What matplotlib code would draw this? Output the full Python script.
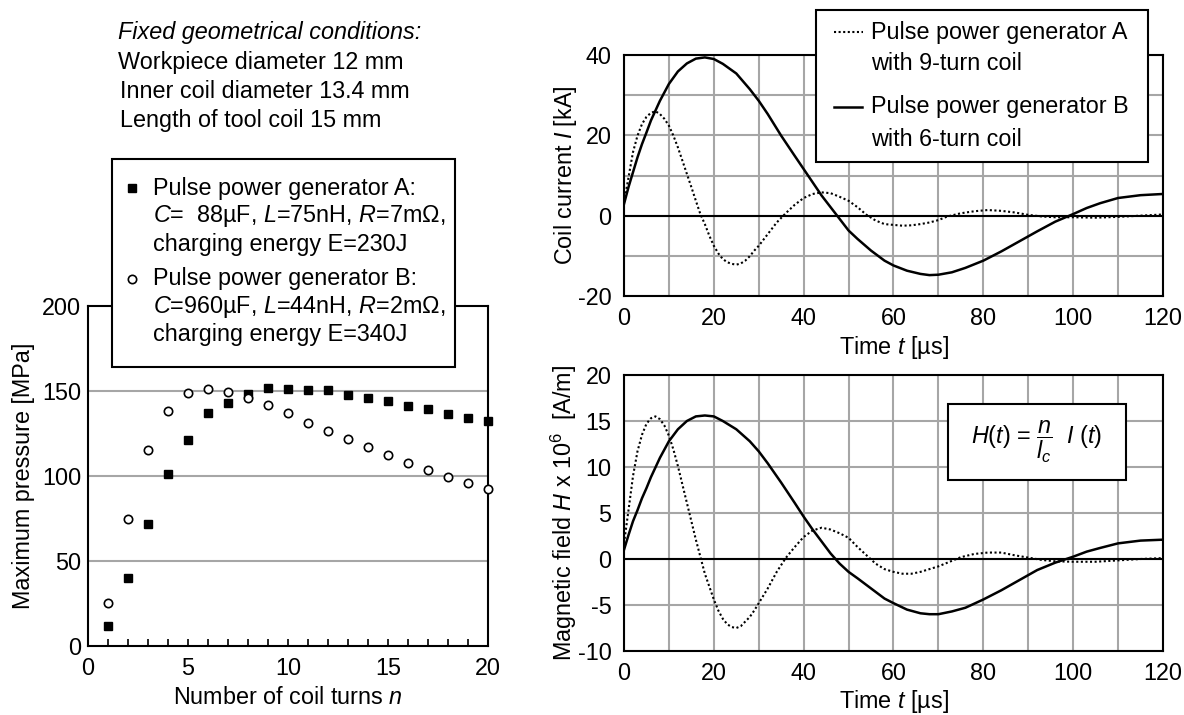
import matplotlib
matplotlib.use('Agg')
import matplotlib.pyplot as plt
from matplotlib.patches import Rectangle
from matplotlib.ticker import MultipleLocator

plt.rcParams['font.family'] = ['Liberation Sans', 'DejaVu Sans']
plt.rcParams['mathtext.fontset'] = 'custom'
plt.rcParams['mathtext.rm'] = 'Liberation Sans'
plt.rcParams['mathtext.it'] = 'Liberation Sans:italic'
plt.rcParams['mathtext.bf'] = 'Liberation Sans:bold'
plt.rcParams['font.size'] = 16.8
plt.rcParams['axes.unicode_minus'] = False

# ---------------- data ----------------
turns = list(range(1, 21))
pressure_A = [12, 40, 72, 101, 121, 137, 143, 148.5, 152, 151.4, 150.8, 150.4,
              147.9, 146.1, 144.4, 141.4, 139.5, 136.7, 134.2, 132.2]
pressure_B = [25.5, 74.8, 115.4, 138.3, 148.7, 151, 149.5, 145.9, 141.8, 136.9,
              131.4, 126.5, 121.6, 116.9, 112.2, 107.7, 103.4, 99.7, 96.0, 92.5]

t_A = [0, 1, 2, 3, 4, 5, 6, 7, 8, 9, 10, 11, 12, 13, 14, 15, 16, 17, 18, 19, 20,
       21, 22, 23, 24, 25, 26, 27, 28, 29, 30,
       32, 34, 36, 38, 40, 42, 44, 46, 48, 50,
       52, 54, 56, 58, 60, 62, 64, 66, 68, 70,
       72, 75, 78, 81, 84, 87, 90, 93, 96, 100, 105, 110, 115, 120]
current_A = [3.3, 9.5, 15.8, 19.9, 22.8, 24.6, 25.6, 26.0, 25.3, 24.1, 22.4, 19.9,
             17.0, 13.7, 10.4, 7.1, 3.7, 0.4, -2.1, -5.0, -7.5, -9.4, -10.8, -11.6,
             -12.0, -12.2, -11.9, -11.2, -10.1, -8.7, -7.5,
             -4.6, -1.7, 0.6, 2.7, 4.4, 5.4, 5.8, 5.6, 4.7, 3.7,
             2.1, 0.2, -1.2, -2.1, -2.3, -2.5, -2.4, -2.1, -1.7, -1.1,
             -0.2, 0.6, 1.1, 1.4, 1.2, 0.8, 0.2, -0.2, -0.4, -0.4, -0.5, -0.3, 0.0, 0.3]
field_A = [1.7, 5.3, 9.0, 11.7, 13.5, 14.7, 15.3, 15.5, 15.2, 14.5, 13.4, 11.9,
           10.1, 8.1, 6.1, 4.1, 2.1, 0.25, -1.6, -3.0, -4.4, -5.6, -6.5, -7.1,
           -7.4, -7.5, -7.3, -6.8, -6.3, -5.6, -4.8,
           -3.2, -1.4, 0.1, 1.3, 2.4, 3.1, 3.4, 3.2, 2.8, 2.3,
           1.3, 0.4, -0.5, -1.1, -1.4, -1.6, -1.6, -1.4, -1.1, -0.8,
           -0.4, 0.2, 0.55, 0.7, 0.7, 0.4, 0.15, -0.1, -0.25, -0.3, -0.3, -0.15, 0.0, 0.1]

t_B = [0, 1, 2, 3, 4, 5, 6, 8, 10, 12, 14, 16, 18, 20, 22, 25, 28, 30, 32, 35, 38,
       40, 42, 44, 46, 48, 50, 52, 55, 58, 60, 63, 66, 68, 70, 73, 76, 80, 84, 88,
       92, 96, 100, 103, 106, 110, 115, 120]
current_B = [2.9, 7.1, 10.8, 14.5, 17.8, 20.7, 23.7, 28.6, 32.8, 35.9, 37.9, 39.1,
             39.4, 39.0, 37.8, 35.4, 31.5, 28.6, 25.3, 19.9, 14.9, 11.6, 8.3, 5.0,
             2.1, -0.8, -3.7, -5.8, -8.7, -11.2, -12.4, -13.7, -14.5, -14.8, -14.7,
             -14.1, -13.0, -11.2, -8.9, -6.4, -3.9, -1.5, 0.4, 1.9, 3.1, 4.4, 5.1, 5.4]
field_B = [1.0, 2.6, 4.1, 5.3, 6.6, 7.7, 8.9, 11.0, 12.8, 14.1, 15.0, 15.5, 15.6,
           15.5, 15.0, 14.1, 12.8, 11.7, 10.4, 8.3, 6.1, 4.6, 3.2, 1.9, 0.6, -0.5,
           -1.4, -2.1, -3.2, -4.3, -4.8, -5.5, -5.9, -6.0, -6.0, -5.7, -5.3, -4.4,
           -3.4, -2.3, -1.2, -0.4, 0.25, 0.8, 1.2, 1.7, 2.0, 2.1]

conditions = ["Workpiece diameter 12 mm", "Inner coil diameter 13.4 mm",
              "Length of tool coil 15 mm"]

# ---------------- figure ----------------
W, H = 1184, 715
fig = plt.figure(figsize=(W / 100, H / 100), dpi=100)

def px_axes(x0, y0, x1, y1):
    return fig.add_axes([x0 / W, 1 - y1 / H, (x1 - x0) / W, (y1 - y0) / H])

GRID = '#a6a6a6'

# Left: maximum pressure
axL = px_axes(88, 306, 488, 646)
axL.plot(turns, pressure_A, 's', color='black', ms=5.5, clip_on=False, zorder=3)
axL.plot(turns, pressure_B, 'o', mfc='white', mec='black', ms=6, mew=1.2,
         clip_on=False, zorder=3)
axL.set_xlim(0, 20)
axL.set_ylim(0, 200)
axL.xaxis.set_major_locator(MultipleLocator(5))
axL.xaxis.set_minor_locator(MultipleLocator(1))
axL.yaxis.set_major_locator(MultipleLocator(50))
for v in (50, 100, 150):
    axL.axhline(v, color=GRID, lw=1.5, zorder=1)
axL.tick_params(axis='x', which='both', direction='in', length=5, width=1.2, pad=8)
axL.tick_params(axis='y', length=0, pad=5)
axL.set_xlabel('Number of coil turns $n$')
axL.set_ylabel('Maximum pressure [MPa]')
axL.xaxis.set_label_coords(0.5, -0.118)
axL.yaxis.set_label_coords(-0.133, 0.5)

def style_right(ax):
    ax.set_xlim(0, 120)
    ax.xaxis.set_major_locator(MultipleLocator(20))
    ax.xaxis.set_minor_locator(MultipleLocator(10))
    ax.grid(True, which='both', color=GRID, lw=1.5)
    ax.set_axisbelow(True)
    ax.tick_params(which='both', length=0)
    ax.tick_params(axis='x', pad=8)
    ax.tick_params(axis='y', pad=9)
    ax.axhline(0, color='black', lw=1.5, zorder=2)

# Top right: coil current
axT = px_axes(624, 55, 1163, 296)
axT.plot(t_A, current_A, color='black', ls=(0, (1, 1.2)), lw=1.5)
axT.plot(t_B, current_B, color='black', lw=1.8)
axT.set_ylim(-20, 40)
axT.yaxis.set_major_locator(MultipleLocator(20))
axT.yaxis.set_minor_locator(MultipleLocator(10))
style_right(axT)
axT.set_xlabel('Time $t$ [µs]')
axT.set_ylabel('Coil current $I$ [kA]')
axT.xaxis.set_label_coords(0.5, -0.158)
axT.yaxis.set_label_coords(-0.084, 0.5)

# Bottom right: magnetic field
axB = px_axes(624, 375, 1163, 651)
axB.plot(t_A, field_A, color='black', ls=(0, (1, 1.2)), lw=1.5)
axB.plot(t_B, field_B, color='black', lw=1.8)
axB.set_ylim(-10, 20)
axB.yaxis.set_major_locator(MultipleLocator(5))
style_right(axB)
axB.set_xlabel('Time $t$ [µs]')
axB.set_ylabel('Magnetic field $H$ x 10$^6$  [A/m]')
axB.xaxis.set_label_coords(0.5, -0.135)
axB.yaxis.set_label_coords(-0.084, 0.5)

for ax in (axL, axT, axB):
    for s in ax.spines.values():
        s.set_linewidth(1.5)
        s.set_color('black')

# ---------------- overlay annotations (pixel coordinates) ----------------
ov = fig.add_axes([0, 0, 1, 1], zorder=10)
ov.set_xlim(0, W)
ov.set_ylim(H, 0)
ov.axis('off')
ov.patch.set_alpha(0)

ov.text(118, 33, 'Fixed geometrical conditions:', style='italic', va='center')
for i, s in enumerate(conditions):
    ov.text(118 if i == 0 else 120, 62 + i * 29, s, va='center')

# left legend
ov.add_patch(Rectangle((112, 159), 343, 208, fc='white', ec='black', lw=1.5))
ov.plot([132], [188], 's', color='black', ms=5.5)
ov.plot([132], [279], 'o', mfc='white', mec='black', ms=6, mew=1.2)
legL = ['Pulse power generator A:',
        '$C$=  88µF, $L$=75nH, $R$=7mΩ,',
        'charging energy E=230J',
        'Pulse power generator B:',
        '$C$=960µF, $L$=44nH, $R$=2mΩ,',
        'charging energy E=340J']
ys = [188, 216, 244, 279, 307, 335]
for s, y in zip(legL, ys):
    ov.text(153, y, s, va='center')

# right legend
ov.add_patch(Rectangle((816, 10), 332, 152, fc='white', ec='black', lw=1.5))
ov.plot([834, 863], [32, 32], color='black', ls=(0, (1, 1.2)), lw=1.5)
ov.plot([834, 862], [107, 107], color='black', lw=1.8)
for s, y in zip(['Pulse power generator A', 'with 9-turn coil',
                 'Pulse power generator B', 'with 6-turn coil'],
                [32, 64, 107, 140]):
    ov.text(871, y, s, va='center')

# formula box
ov.add_patch(Rectangle((948, 404), 178, 76, fc='white', ec='black', lw=1.5))
ov.text(1037, 442, r'$H(t)$ = $\dfrac{n}{l_c}$  $I\ (t)$', ha='center', va='center')

fig.savefig('out.png', dpi=100)
